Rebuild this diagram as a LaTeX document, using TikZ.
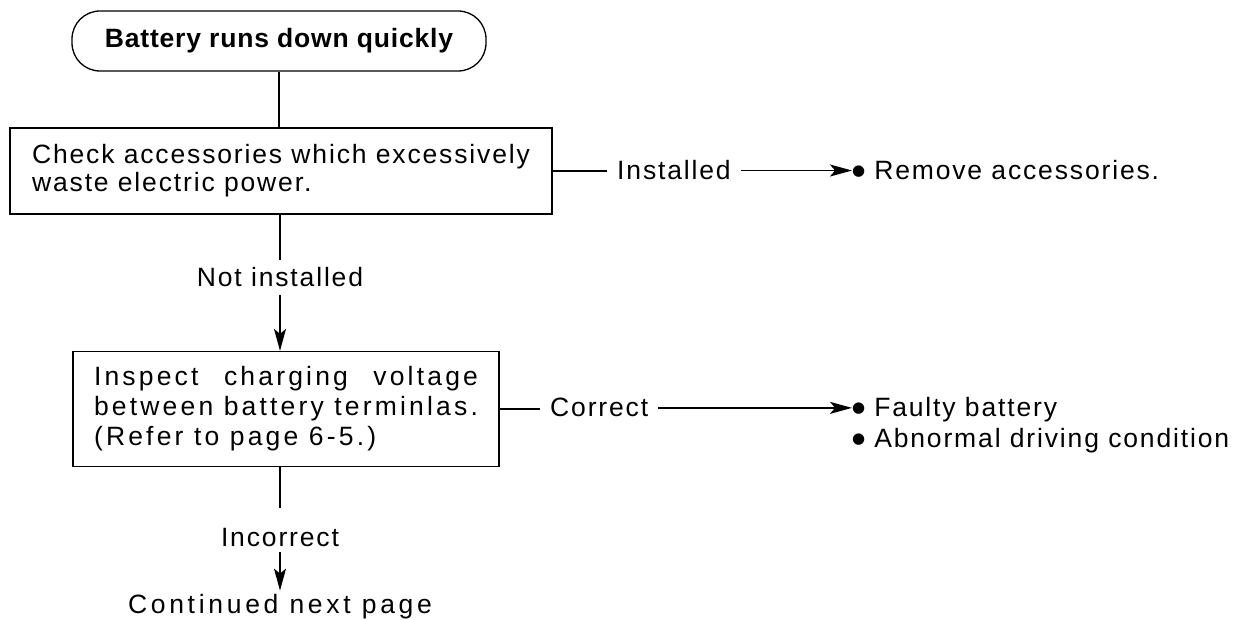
\documentclass[tikz,border=0pt]{standalone}
\usepackage{fontspec}
\setmainfont{Liberation Sans}[LetterSpace=7]
\newfontfamily\dejavu{DejaVu Sans}
\usepackage{calc}
\usetikzlibrary{arrows.meta}
\newcommand{\bul}{\raisebox{4pt}{\dejavu\fontsize{15}{15}\selectfont ●}\hspace{9pt}}
\begin{document}
\begin{tikzpicture}[x=1pt,y=-1pt,
  every node/.style={font=\fontsize{26.5}{28}\selectfont, inner sep=0pt},
  box/.style={draw, line width=1.3pt, align=left},
  lbl/.style={inner xsep=10pt, inner ysep=8pt},
  conn/.style={line width=1.3pt},
  arr/.style={conn, -{Stealth[length=22pt,width=12pt,inset=5pt]}}]
\useasboundingbox (0,0) rectangle (1259,620);
\node[draw, line width=1.3pt, rounded corners=28pt, minimum width=414pt, minimum height=60pt,
      font=\fontsize{26.5}{29}\selectfont\bfseries\addfontfeature{LetterSpace=3}] (start) at (279,41) {Battery runs down quickly};
\node[box, minimum width=542pt, minimum height=86pt] (check) at (281,171)
  {Check accessories which excessively\\waste electric power.};
\node[lbl, anchor=base] (ni) at (280,287) {Not installed};
\node[box, minimum width=426pt, minimum height=115pt,
      font=\fontsize{26.5}{30}\selectfont\addfontfeature{LetterSpace=12}] (insp) at (286,409)
  {\makebox[\widthof{between battery terminlas.}][s]{Inspect charging voltage}\\
   between battery terminlas.\\(Refer to page 6-5.)};
\node[lbl, anchor=base west] (inst) at (607,180) {Installed};
\node[anchor=base west] (rem) at (852,180) {\bul Remove accessories.};
\node[lbl, anchor=base west] (cor) at (540,417) {Correct};
\node[anchor=base west] (fb) at (852,417) {\bul Faulty battery};
\node[anchor=base west] (adc) at (852,447) {\bul Abnormal driving condition};
\node[inner ysep=6pt, anchor=base] (inc) at (280,546) {Incorrect};
\node[inner ysep=3pt, anchor=base,
      font=\fontsize{26.5}{28}\selectfont\addfontfeature{LetterSpace=14}] (cont) at (280,613) {Continued next page};
\draw[conn] (start.south) -- (start.south |- check.north);
\draw[conn] (ni.north |- check.south) -- (ni.north);
\draw[arr] (ni.south) -- (ni.south |- insp.north);
\draw[conn] (check.east) -- (check.east -| inst.west);
\draw[arr] (inst.east) -- (inst.east -| rem.west);
\draw[conn] (insp.east) -- (insp.east -| cor.west);
\draw[arr] (cor.east) -- (cor.east -| fb.west);
\draw[conn, shorten >=14pt] (inc.north |- insp.south) -- (inc.north);
\draw[arr] (inc.south) -- (inc.south |- cont.north);
\end{tikzpicture}
\end{document}
